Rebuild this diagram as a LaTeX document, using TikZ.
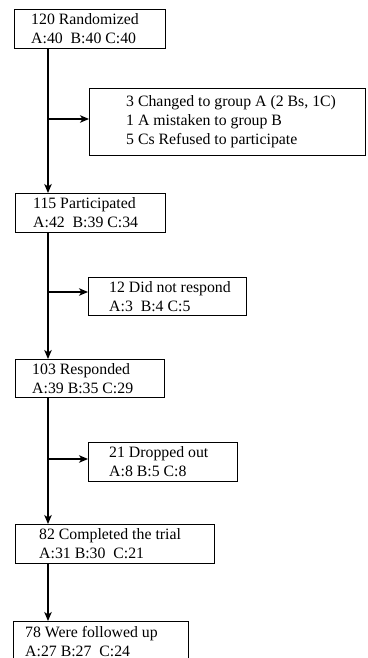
\documentclass[tikz,border=0pt]{standalone}
\usepackage{fontspec}
\setmainfont{Liberation Serif}
\usetikzlibrary{arrows.meta}
\begin{document}
\begin{tikzpicture}[x=1pt,y=-1pt,
  box/.style={draw=black,line width=1.1pt,rectangle,inner sep=0pt,anchor=north west},
  txt/.style={inner sep=0pt,align=left,anchor=west,font=\fontsize{15.8}{19}\selectfont},
  arr/.style={line width=1.1pt,-{Stealth[length=9pt,width=7.5pt,inset=2.5pt]}}]
\useasboundingbox (0,0) rectangle (367,658);
% boxes
\node[box,minimum width=151pt,minimum height=39pt] (b1) at (14,9) {};
\node[box,minimum width=276pt,minimum height=67pt] (b2) at (89,88) {};
\node[box,minimum width=150pt,minimum height=39pt] (b3) at (15,193) {};
\node[box,minimum width=158pt,minimum height=38pt] (b4) at (88,277) {};
\node[box,minimum width=149pt,minimum height=38pt] (b5) at (15,359) {};
\node[box,minimum width=149pt,minimum height=39pt] (b6) at (88,442) {};
\node[box,minimum width=199pt,minimum height=39pt] (b7) at (15,524) {};
\node[box,minimum width=175pt,minimum height=39pt] (b8) at (13,621) {};
% texts
\node[txt] (t1) at ([xshift=17pt]b1.west) {120 Randomized\\A:40\ \ B:40 C:40};
\node[txt] (t2) at ([xshift=37pt]b2.west) {3 Changed to group A (2 Bs, 1C)\\1 A mistaken to group B\\5 Cs Refused to participate};
\node[txt] (t3) at ([xshift=18pt]b3.west) {115 Participated\\A:42\ \ B:39 C:34};
\node[txt] (t4) at ([xshift=21pt]b4.west) {12 Did not respond\\A:3\ \ B:4 C:5};
\node[txt] (t5) at ([xshift=17pt]b5.west) {103 Responded\\A:39 B:35 C:29};
\node[txt] (t6) at ([xshift=21pt]b6.west) {21 Dropped out\\A:8 B:5 C:8};
\node[txt] (t7) at ([xshift=24pt]b7.west) {82 Completed the trial\\A:31 B:30\ \ C:21};
\node[txt] (t8) at ([xshift=12pt]b8.west) {78 Were followed up\\A:27 B:27\ \ C:24};
% trunk
\coordinate (trunk) at (48,0);
\coordinate (j1) at (48,119);
\coordinate (j2) at (48,292);
\coordinate (j3) at (48,459);
\draw[arr] (b1.south -| trunk) -- (b3.north -| trunk);
\draw[arr] (b3.south -| trunk) -- (b5.north -| trunk);
\draw[arr] (b5.south -| trunk) -- (b7.north -| trunk);
\draw[arr] (b7.south -| trunk) -- (b8.north -| trunk);
\draw[arr] (j1) -- (j1 -| b2.west);
\draw[arr] (j2) -- (j2 -| b4.west);
\draw[arr] (j3) -- (j3 -| b6.west);
\end{tikzpicture}
\end{document}
